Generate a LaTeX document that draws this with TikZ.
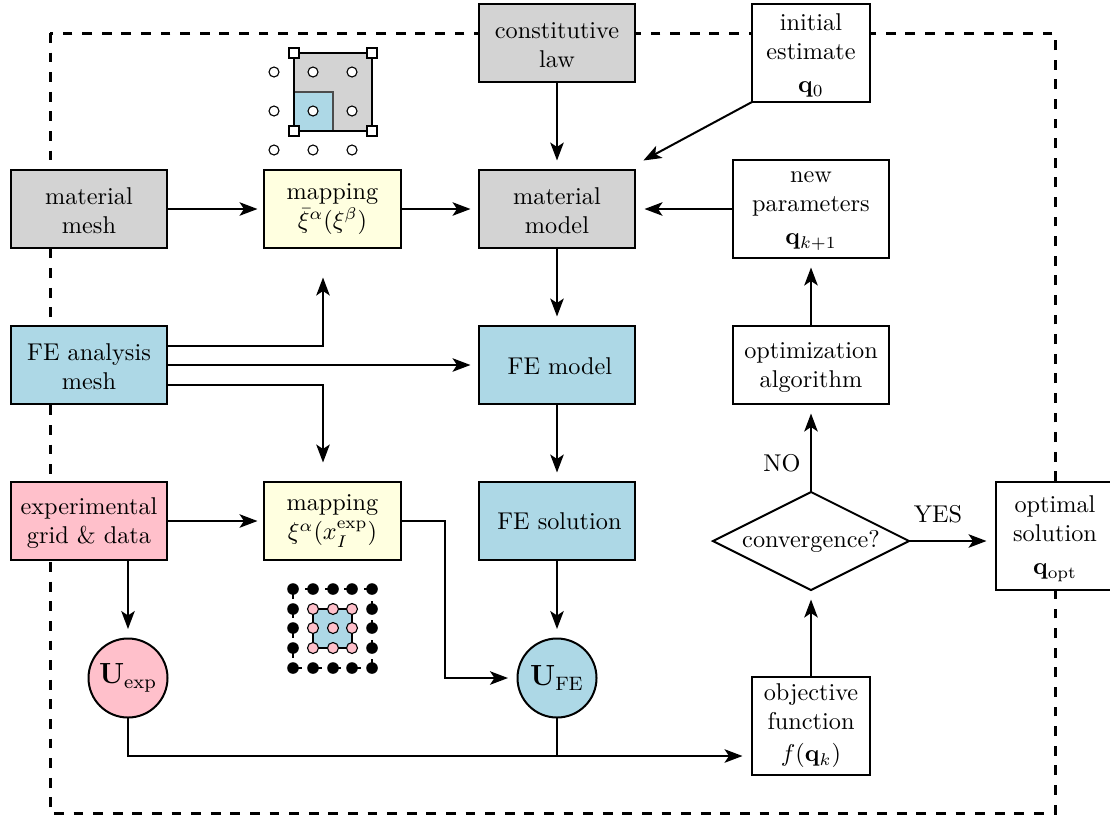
\documentclass[tikz,border=0pt]{standalone}
\usetikzlibrary{arrows.meta,shapes.geometric}
\definecolor{boxgray}{HTML}{D3D3D3}
\definecolor{boxblue}{HTML}{ADD8E6}
\definecolor{boxpink}{HTML}{FFC0CB}
\definecolor{boxyellow}{HTML}{FFFFE0}
\def\pxu{0.412pt}
\newcommand{\lowtwo}{\rule{0pt}{8.6pt}}
\newcommand{\lowthree}{\rule{0pt}{9.2pt}}
\newcommand{\lowone}{\rule{0pt}{7.65pt}}
\tikzset{
  x=0.412pt,y=-0.412pt,
  base/.style={draw=black,line width=2*\pxu,inner sep=0pt,outer sep=0pt,align=center,text=black},
  widebox/.style={base,rectangle,minimum width=156*\pxu,minimum height=78*\pxu},
  mapbox/.style={base,rectangle,fill=boxyellow,minimum width=137*\pxu,minimum height=78*\pxu},
  narrowbox/.style={base,rectangle,fill=white,minimum width=118*\pxu,minimum height=98*\pxu},
  paramdbox/.style={base,rectangle,fill=white,minimum width=156*\pxu,minimum height=98*\pxu},
  roundbox/.style={base,circle,minimum size=79*\pxu},
  decision/.style={base,diamond,aspect=2,fill=white,minimum width=196*\pxu,minimum height=98*\pxu},
  conn/.style={line width=2*\pxu,draw=black,shorten >=9.5*\pxu,-{Stealth[length=18*\pxu,width=13.5*\pxu,inset=4.5*\pxu]}},
  plainconn/.style={line width=2*\pxu,draw=black},
  frame/.style={line width=3*\pxu,dash pattern=on 9.8*\pxu off 9.8*\pxu},
  thinedge/.style={line width=1.5*\pxu},
}
\begin{document}
\begin{tikzpicture}
\useasboundingbox (0,0) rectangle (1110,816);
\draw[frame] (50,33) rectangle (1055,813);

% icon above first mapping
\draw[line width=2*\pxu,fill=boxgray] (294,53) rectangle (372,131);
\draw[thinedge,fill=boxblue,draw=black!70] (294,92) rectangle (333,131);
\draw[line width=2*\pxu] (294,53) rectangle (372,131);
\foreach \x in {274,313,352} \foreach \y in {72,111,150}
  \draw[line width=1.1*\pxu,fill=white] (\x,\y) circle[radius=5];
\foreach \x in {294,372} \foreach \y in {53,131}
  \draw[line width=2.8*\pxu,fill=white] (\x-5,\y-5) rectangle (\x+5,\y+5);

% icon below second mapping
\draw[line width=2*\pxu,dash pattern=on 9.8*\pxu off 9.8*\pxu] (293,589) -- (293,668) -- (372,668) -- (372,589) -- cycle;
\draw[line width=1.5*\pxu,fill=boxblue] (313,609) rectangle (352,648);
\foreach \p in {293,313,333,352,372} {
  \fill (\p,589) circle[radius=5.8];
  \fill (\p,668) circle[radius=5.8];
}
\foreach \p in {609,628,648} {
  \fill (293,\p) circle[radius=5.8];
  \fill (372,\p) circle[radius=5.8];
  \foreach \q in {313,333,352}
    \draw[line width=1.1*\pxu,fill=boxpink] (\q,\p) circle[radius=5.5];
}

% nodes
\node[widebox,fill=boxgray] (matmesh) at (89,209) {\lowtwo material\\mesh};
\node[widebox,fill=boxblue] (femesh) at (89,365) {\lowtwo FE analysis\\mesh};
\node[widebox,fill=boxpink] (expgrid) at (89,521) {\lowtwo experimental\\grid \& data};
\node[mapbox] (map1) at (332.5,209) {mapping\\$\bar\xi^\alpha(\xi^\beta)$};
\node[mapbox] (map2) at (332.5,521) {mapping\\$\xi^\alpha(x_I^{\mathrm{exp}})$};
\node[widebox,fill=boxgray] (law) at (557,43) {\lowtwo constitutive\\law};
\node[widebox,fill=boxgray] (matmodel) at (557,209) {\lowtwo material\\model};
\node[widebox,fill=boxblue] (femodel) at (557,365) {\lowone\hspace*{2.4pt}FE model};
\node[widebox,fill=boxblue] (fesol) at (557,521) {\hspace*{2pt}FE solution};
\node[narrowbox] (init) at (811,53) {\lowthree initial\\estimate\\[1.5pt]$\mathbf{q}_0$};
\node[paramdbox] (newpar) at (811,209) {\rule{0pt}{6pt}new\\parameters\\[1.5pt]$\mathbf{q}_{k+1}$};
\node[widebox,fill=white] (optalg) at (811,365) {\lowtwo optimization\\algorithm};
\node[decision] (conv) at (811,541) {\lowone convergence?};
\node[base,rectangle,fill=white,minimum width=118*\pxu,minimum height=108*\pxu] (optsol) at (1055,536) {\lowthree optimal\\solution\\[1.5pt]$\mathbf{q}_{\mathrm{opt}}$};
\node[roundbox,fill=boxpink] (uexp) at (128,678) {\large$\mathbf{U}_{\mathrm{exp}}$};
\node[roundbox,fill=boxblue] (ufe) at (557,678) {\large$\mathbf{U}_{\mathrm{FE}}$};
\node[narrowbox] (objfn) at (811,726) {objective\\function\\[1.2pt]$f(\mathbf{q}_k)$};
\node[inner sep=0pt] (nolabel) at (782,463) {NO};
\node[inner sep=0pt] (yeslabel) at (938,514) {YES};

% free ends
\coordinate (upend) at (323,268);
\coordinate (downend) at (323,472);
\coordinate (matin) at (635,165);

% connectors
\draw[conn] (matmesh.east) -- ([xshift=3*\pxu]map1.west);
\draw[conn] (map1.east) -- ([xshift=1*\pxu]matmodel.west);
\draw[conn] (law.south) -- (matmodel.north);
\draw[conn] (init.south west) -- (matin);
\draw[conn] (newpar.west) -- (matmodel.east);
\draw[conn] (matmodel.south) -- (femodel.north);
\draw[conn] (femodel.south) -- (fesol.north);
\draw[conn] (fesol.south) -- (ufe.north);
\draw[conn] (femesh.east) -- ([xshift=1*\pxu]femodel.west);
\draw[conn] ([yshift=19.5*\pxu]femesh.east) -| (upend);
\draw[conn] ([yshift=-19.5*\pxu]femesh.east) -| (downend);
\draw[conn] (expgrid.east) -- ([xshift=3*\pxu]map2.west);
\draw[conn] (map2.east) -- (445,521) |- (ufe.west);
\draw[conn] (uexp.north |- expgrid.south) -- (uexp.north);
\draw[conn] (uexp.south) |- ([yshift=-30*\pxu]objfn.west);
\draw[plainconn] (ufe.south) -- (ufe.south |- 0,756);
\draw[conn] (objfn.north) -- (conv.south);
\draw[conn] (conv.north) -- (optalg.south);
\draw[conn] (optalg.north) -- (newpar.south);
\draw[conn] (conv.east) -- (conv.east -| optsol.west);
\end{tikzpicture}
\end{document}
